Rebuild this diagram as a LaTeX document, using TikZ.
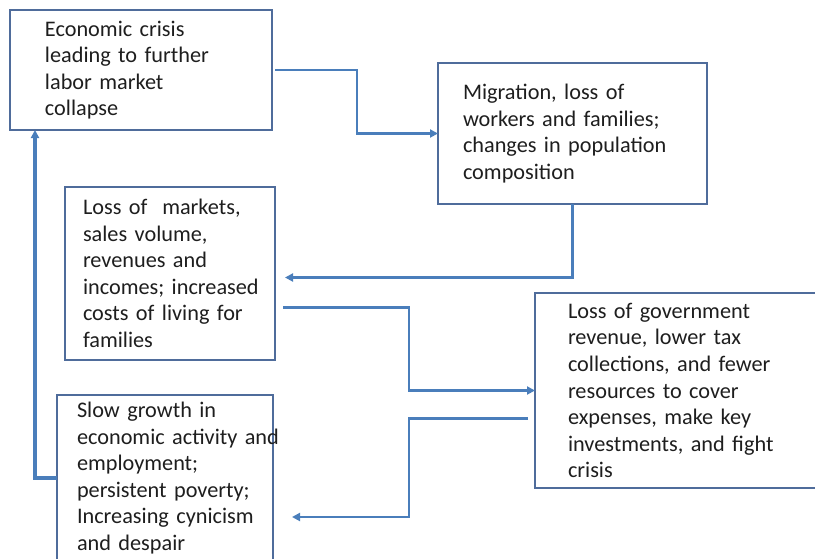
\documentclass[tikz,border=0pt]{standalone}
\usepackage{fontspec}
\setmainfont{Carlito}
\usetikzlibrary{arrows.meta,calc}
\definecolor{linkblue}{RGB}{74,126,187}
\definecolor{framegray}{RGB}{79,108,155}
\definecolor{inkgray}{RGB}{30,30,30}

\begin{document}
\begin{tikzpicture}[
  x = 0.75pt, y = -0.75pt,
  box/.style = {draw = framegray, line width = 1.3pt, anchor = north west,
                align = left, text = inkgray, inner ysep = 0pt, outer sep = 0pt,
                font = \fontsize{16.7}{19.9}\selectfont},
  flow/.style = {draw = linkblue, line width = 1.8pt,
                 -{Triangle[length = 6pt, width = 6pt]}},
  back/.style = {flow, line width = 2.6pt},
  ]
  \useasboundingbox (0,0) rectangle (815,558);
  \clip (0,0) rectangle (815,558);

  \node[box, minimum width = 196.5pt, minimum height = 90pt,
        inner xsep = 26.25pt, text width = 144pt] (crisis) at (10,10)
    {Economic crisis\\ leading to further\\ labor market\\ collapse};
  \node[box, minimum width = 201.75pt, minimum height = 105.75pt,
        inner xsep = 18.75pt, text width = 164.25pt] (migration) at (438,63)
    {Migration, loss of\\ workers and families;\\ changes in population\\ composition};
  \node[box, minimum width = 157.5pt, minimum height = 129.75pt,
        inner xsep = 13.5pt, text width = 130.5pt] (markets) at (65,187)
    {Loss of~ markets,\\ sales volume,\\ revenues and\\ \mbox{incomes; increased}\\ costs of living for\\ families};
  \node[box, minimum width = 225pt, minimum height = 146.25pt,
        inner xsep = 24.75pt, text width = 175.5pt] (government) at (535,293)
    {Loss of government\\ revenue, lower tax\\ collections, and fewer\\ resources to cover\\ expenses, make key\\ investments, and fight\\ crisis};
  \node[box, minimum width = 162pt, minimum height = 124.5pt,
        inner xsep = 15pt, text width = 132pt] (growth) at (57,395)
    {Slow growth in\\ \mbox{economic activity and}\\ employment;\\ persistent poverty;\\ \mbox{Increasing cynicism}\\ and despair};

  \draw[flow] ($(crisis.east)+(3,0)$) -- ++(82,0) |- (migration.west);
  \draw[flow] (migration.south) |- ($(markets.east)+(10,4)$);
  \draw[flow] ($(markets.east)+(8,34)$) -- ++(126,0) |- (government.west);
  \draw[flow] ($(government.west)+(-7,28)$) -- ++(-119,0) |- ($(growth.east)+(19,39)$);
  \draw[back] (growth.west) -| ($(crisis.south west)+(25,0)$);
\end{tikzpicture}
\end{document}
